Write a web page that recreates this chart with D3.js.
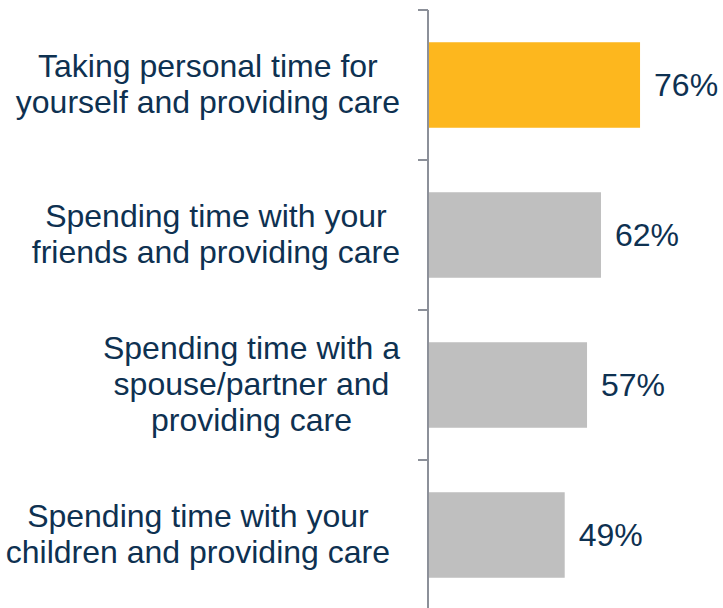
<!DOCTYPE html>
<html>
<head>
<meta charset="utf-8">
<script src="https://cdn.jsdelivr.net/npm/d3@7"></script>
<style>
  body { margin: 0; background: #fff; }
  text { font-family: "Liberation Sans", Arial, sans-serif; }
</style>
</head>
<body>
<div id="chart"></div>
<script>
const categories = [
    ["Taking personal time for", "yourself and providing care"],
    ["Spending time with your", "friends and providing care"],
    ["Spending time with a", "spouse/partner and", "providing care"],
    ["Spending time with your", "children and providing care"]
];
const values = [76, 62, 57, 49];
const barColors = ["#FDB71E", "#BFBFBF", "#BFBFBF", "#BFBFBF"];

const W = 723, H = 608;
const margin = { top: 10, right: 16, bottom: -2, left: 428 };
const width = W - margin.left - margin.right;
const height = H - margin.top - margin.bottom;

// gap between each label block and the axis
const labelGap = [28, 28, 28, 38];

const svg = d3.select("#chart").append("svg")
    .attr("width", W)
    .attr("height", H)
    .append("g")
    .attr("transform", "translate(" + margin.left + "," + margin.top + ")");

const ids = categories.map((c, i) => i);

const yScale = d3.scaleBand()
    .domain(ids)
    .range([0, height])
    .paddingInner(0.43)
    .paddingOuter(0.215);

const xScale = d3.scaleLinear()
    .domain([0, 100])
    .range([0, 279]);

// category axis with ticks between bands
const step = yScale.step();
const tickPos = d3.range(ids.length + 1).map(i => i * step);
svg.append("line")
    .attr("x1", 0).attr("x2", 0)
    .attr("y1", 0).attr("y2", height + 10)
    .attr("stroke", "#8C9099").attr("stroke-width", 2);
svg.selectAll(".tick")
    .data(tickPos)
    .enter()
    .append("line")
    .attr("x1", -10).attr("x2", 0)
    .attr("y1", d => d).attr("y2", d => d)
    .attr("stroke", "#8C9099").attr("stroke-width", 2);

svg.selectAll(".bar")
    .data(values)
    .enter()
    .append("rect")
    .attr("x", 1)
    .attr("y", (d, i) => yScale(i))
    .attr("width", d => xScale(d) - 1)
    .attr("height", yScale.bandwidth())
    .attr("fill", (d, i) => barColors[i]);

svg.selectAll(".val")
    .data(values)
    .enter()
    .append("text")
    .attr("x", d => xScale(d) + 14)
    .attr("y", (d, i) => yScale(i) + yScale.bandwidth() / 2)
    .attr("dy", "0.34em")
    .attr("font-size", 32)
    .attr("fill", "#0E3151")
    .text(d => d + "%");

// category labels, centred as a block whose right edge sits left of the axis
const lineH = 36;
categories.forEach((lines, i) => {
    const cy = yScale(i) + yScale.bandwidth() / 2;
    const t = svg.append("text")
        .attr("font-size", 32)
        .attr("fill", "#0E3151")
        .attr("text-anchor", "middle");
    lines.forEach((l, j) => {
        t.append("tspan")
            .attr("y", cy + (j - (lines.length - 1) / 2) * lineH)
            .attr("dy", "0.3em")
            .text(l);
    });
    let maxW = 0;
    t.selectAll("tspan").each(function () {
        maxW = Math.max(maxW, this.getComputedTextLength());
    });
    t.selectAll("tspan").attr("x", -labelGap[i] - maxW / 2);
});
</script>
</body>
</html>
